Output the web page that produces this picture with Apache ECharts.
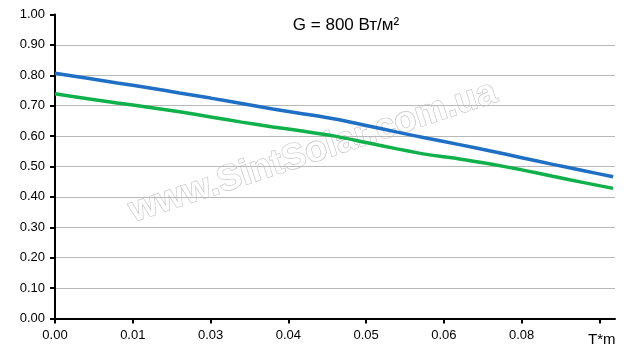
<!DOCTYPE html>
<html>
<head>
<meta charset="utf-8">
<script src="https://cdn.jsdelivr.net/npm/echarts@6/dist/echarts.min.js"></script>
<style>html,body{margin:0;padding:0;background:#fff}#c{width:640px;height:353px}</style>
</head>
<body>
<div id="c"></div>
<script>
var xValues = [0, 0.005, 0.01, 0.015, 0.02, 0.025, 0.03, 0.035, 0.04, 0.045, 0.05, 0.055, 0.06, 0.065, 0.07, 0.075, 0.08, 0.085, 0.0897];
var blueValues = [0.807, 0.791, 0.775, 0.759, 0.742, 0.725, 0.707, 0.689, 0.673, 0.656, 0.635, 0.613, 0.592, 0.572, 0.551, 0.529, 0.507, 0.486, 0.466];
var greenValues = [0.739, 0.724, 0.709, 0.695, 0.680, 0.663, 0.646, 0.630, 0.616, 0.600, 0.579, 0.558, 0.539, 0.525, 0.508, 0.489, 0.468, 0.447, 0.428];
var xTicks = [0, 0.0125, 0.025, 0.0375, 0.05, 0.0625, 0.075, 0.0875];
var xLabelTicks = [0, 0.0125, 0.025, 0.0375, 0.05, 0.0625, 0.075];
var titleText = 'G = 800 Вт/м²';
var xName = 'T*m';
var watermark = 'www.SintSolar.com.ua';

function pairs(xs, ys) { return xs.map(function (x, i) { return [x, ys[i]]; }); }

var chart = echarts.init(document.getElementById('c'), null, {renderer: 'canvas'});
chart.setOption({
  animation: false,
  backgroundColor: '#fff',
  title: {
    text: titleText, left: 341, top: 12, textAlign: 'center',
    textStyle: {fontFamily: 'Liberation Sans, Arial', fontSize: 17, fontWeight: 'normal', color: '#000'}
  },
  grid: {left: 55, right: 25, top: 14.5, bottom: 34.5, containLabel: false},
  xAxis: {
    type: 'value', min: 0, max: 0.09,
    axisLine: {show: true, onZero: false, lineStyle: {color: '#000', width: 2}},
    axisTick: {show: true, length: 5, customValues: xTicks, lineStyle: {color: '#000', width: 2}},
    axisLabel: {
      customValues: xLabelTicks, margin: 10,
      fontFamily: 'Liberation Sans, Arial', fontSize: 13, color: '#000',
      formatter: function (v) { return (Math.round(v * 100 + 1e-9) / 100).toFixed(2); }
    },
    splitLine: {show: false}
  },
  yAxis: {
    type: 'value', min: 0, max: 1, interval: 0.1,
    axisLine: {show: true, lineStyle: {color: '#000', width: 2}},
    axisTick: {show: true, length: 5, lineStyle: {color: '#000', width: 2}},
    axisLabel: {
      margin: 10, fontFamily: 'Liberation Sans, Arial', fontSize: 13, color: '#000',
      formatter: function (v) { return v.toFixed(2); }
    },
    splitLine: {show: true, showMaxLine: false, lineStyle: {color: '#b8b8b8', width: 1}}
  },
  graphic: [
    {
      type: 'text', left: 588, top: 332, z: 10,
      style: {text: xName, font: '15px "Liberation Sans", Arial', fill: '#000'}
    },
    {
      type: 'text', x: 313, y: 152, rotation: 0.32, z: -1, silent: true,
      style: {
        text: watermark, font: 'bold 36px "Liberation Sans", Arial',
        fill: 'rgba(255,255,255,0.9)', stroke: '#c4c4c4', lineWidth: 1.2,
        align: 'center', verticalAlign: 'middle',
        shadowColor: 'rgba(0,0,0,0.25)', shadowBlur: 2, shadowOffsetX: 1, shadowOffsetY: 1
      }
    }
  ],
  series: [
    {
      type: 'line', data: pairs(xValues, blueValues), showSymbol: false, smooth: 0.3,
      lineStyle: {color: '#1f6fc5', width: 3.5}, z: 5
    },
    {
      type: 'line', data: pairs(xValues, greenValues), showSymbol: false, smooth: 0.3,
      lineStyle: {color: '#10b04a', width: 3.5}, z: 5
    }
  ]
});
</script>
</body>
</html>
